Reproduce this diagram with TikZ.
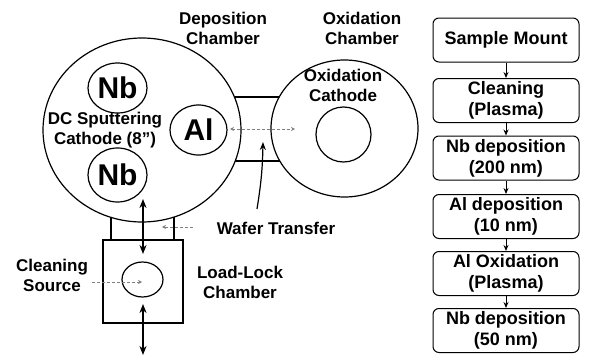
\documentclass[tikz,border=0pt]{standalone}
\usepackage{fontspec}
\setmainfont{Liberation Sans}
\usetikzlibrary{shapes.geometric,arrows.meta}
\begin{document}
\begin{tikzpicture}[x=1pt,y=-1pt,
  txt/.style={font=\fontsize{17}{20}\selectfont\bfseries,align=center,inner sep=0pt},
  big/.style={font=\fontsize{30}{30}\selectfont\bfseries},
  ring/.style={draw,ellipse,line width=1.2pt,inner sep=0pt,fill=white},
  stepbox/.style={draw,rounded corners=6pt,line width=1pt,minimum width=146pt,minimum height=44pt,align=center,inner sep=0pt,font=\fontsize{18}{21}\selectfont\bfseries},
  flow/.style={-{Stealth[length=6pt,width=5pt]},line width=1pt},
  dbl/.style={{Stealth[length=9pt,width=7pt]}-{Stealth[length=9pt,width=7pt]},line width=1.6pt},
  gdash/.style={gray,line width=0.7pt,dash pattern=on 3pt off 2pt}
]
\useasboundingbox (0,0) rectangle (598,356);
% tubes (drawn first, hidden by filled chambers)
\draw[line width=1.2pt] (225,97) -- (290,97) (225,161) -- (290,161);
\draw[line width=1.2pt] (111,200) -- (111,240) (174,200) -- (174,240);
% chambers
\node[ring,minimum width=198pt,minimum height=184pt] (dep) at (142,130) {};
\node[ring,minimum width=147pt,minimum height=137pt] (ox) at (344.5,128.5) {};
\node[ring,minimum width=55pt,minimum height=55pt] (oxc) at (343.5,134.5) {};
\node[draw,line width=1.2pt,minimum width=80pt,minimum height=83pt,inner sep=0pt] (ll) at (143,281.5) {};
\node[ring,minimum width=41pt,minimum height=35pt] (src) at (142.5,279.5) {};
% targets
\node[ring,big,minimum width=59pt,minimum height=50pt] (nb1) at (117.5,88) {Nb};
\node[ring,big,minimum width=59pt,minimum height=54pt] (nb2) at (117.5,175) {Nb};
\node[ring,big,minimum width=57pt,minimum height=50pt] (al) at (198.5,130) {Al};
% labels
\node[txt] (ldep) at (223,28) {Deposition\\Chamber};
\node[txt] (lox) at (362,28) {Oxidation\\Chamber};
\node[txt] (loxc) at (343,85) {Oxidation\\Cathode};
\node[txt] (ldc) at (105,130) {DC Sputtering\\Cathode (8'')};
\node[txt] (lcs) at (52,275) {Cleaning\\Source};
\node[txt] (lll) at (240,282) {Load-Lock\\Chamber};
\node[txt] (lwt) at (276,228) {Wafer Transfer};
% connectors
\coordinate (a1) at (143,199);
\coordinate (a2) at (143,254);
\coordinate (a3) at (143,304);
\coordinate (a4) at (143,355);
\draw[dbl] (a1) -- (a2);
\draw[dbl] (a3) -- (a4);
\coordinate (t1) at (230,129);
\coordinate (t2) at (295,129);
\draw[gdash,{Stealth[open,length=4pt,width=4pt]}-{Stealth[open,length=4pt,width=4pt]}] (t1) -- (t2);
\coordinate (w1) at (193,227);
\coordinate (w2) at (162,227);
\draw[gdash,-{Stealth[length=4pt,width=4pt]}] (w1) -- (w2);
\coordinate (c1) at (92,282);
\coordinate (c2) at (142,282);
\draw[gdash,-{Stealth[length=4pt,width=4pt]}] (c1) -- (c2);
\coordinate (wa) at (257,209);
\coordinate (wb) at (263,142);
\draw[line width=1.2pt,-{Stealth[length=8pt,width=6pt]}] (wa) to[bend right=4] (wb);
% flow
\node[stepbox] (s1) at (506,40) {Sample Mount};
\node[stepbox] (s2) at (506,100.5) {Cleaning\\(Plasma)};
\node[stepbox] (s3) at (506,158) {Nb deposition\\(200 nm)};
\node[stepbox] (s4) at (506,216.5) {Al deposition\\(10 nm)};
\node[stepbox] (s5) at (506,273.5) {Al Oxidation\\(Plasma)};
\node[stepbox] (s6) at (506,330.5) {Nb deposition\\(50 nm)};
\draw[flow] (s1) -- (s2);
\draw[flow] (s2) -- (s3);
\draw[flow] (s3) -- (s4);
\draw[flow] (s4) -- (s5);
\draw[flow] (s5) -- (s6);
\end{tikzpicture}
\end{document}
